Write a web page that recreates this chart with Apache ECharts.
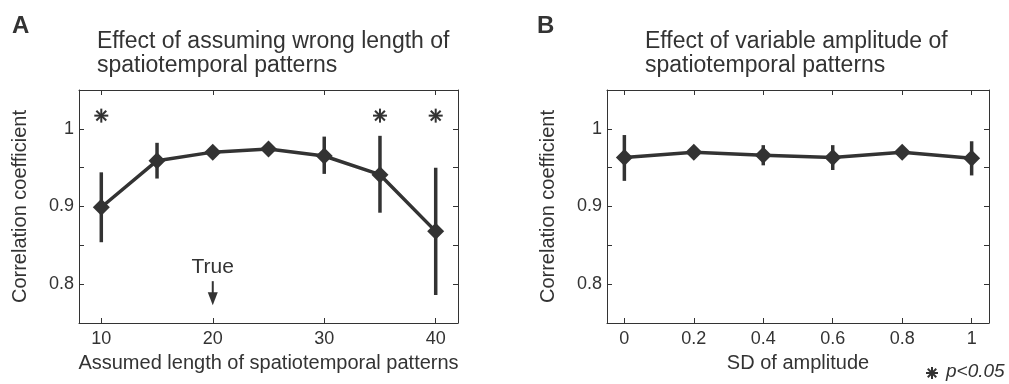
<!DOCTYPE html>
<html>
<head>
<meta charset="utf-8">
<script src="https://cdn.jsdelivr.net/npm/echarts@6/dist/echarts.min.js"></script>
<style>
  html, body { margin: 0; padding: 0; background: #fff; }
  #chart { width: 1009px; height: 384px; }
</style>
</head>
<body>
<div id="chart"></div>
<script>
// panel A: assumed pattern length
var lenX = [10, 15, 20, 25, 30, 35, 40];
var lenMean = [0.899, 0.959, 0.970, 0.974, 0.965, 0.941, 0.868];
var lenLow = [0.854, 0.936, 0.965, 0.969, 0.942, 0.892, 0.786];
var lenHigh = [0.944, 0.982, 0.975, 0.979, 0.990, 0.991, 0.950];
var sigX = [10, 35, 40];
var sigY = 1.017;
var lenTicks = [10, 20, 30, 40];

// panel B: SD of amplitude
var sdX = [0, 0.2, 0.4, 0.6, 0.8, 1];
var sdMean = [0.963, 0.970, 0.966, 0.963, 0.970, 0.962];
var sdLow = [0.933, 0.965, 0.953, 0.947, 0.965, 0.940];
var sdHigh = [0.992, 0.975, 0.979, 0.979, 0.975, 0.984];
var sdTicks = [0, 0.2, 0.4, 0.6, 0.8, 1];

var yTicks = [0.8, 0.85, 0.9, 0.95, 1];
var yLabels = [0.8, 0.9, 1];
var trueX = 20;

var ink = '#333';
var font = 'Liberation Sans, Arial, sans-serif';

function zip(a, b, c) {
  return a.map(function (v, i) { return c ? [v, b[i], c[i]] : [v, b[i]]; });
}

function errRender(params, api) {
  var p1 = api.coord([api.value(0), api.value(1)]);
  var p2 = api.coord([api.value(0), api.value(2)]);
  return {
    type: 'line',
    shape: { x1: p1[0], y1: p1[1], x2: p2[0], y2: p2[1] },
    style: { stroke: ink, lineWidth: 3.5 }
  };
}

function starLines(cx, cy, r, w) {
  var out = [];
  for (var k = 0; k < 4; k++) {
    var a = k * Math.PI / 4;
    var dx = Math.cos(a) * r, dy = Math.sin(a) * r;
    out.push({
      type: 'line',
      shape: { x1: cx - dx, y1: cy - dy, x2: cx + dx, y2: cy + dy },
      style: { stroke: ink, lineWidth: w }
    });
  }
  return out;
}

function starRender(params, api) {
  var p = api.coord([api.value(0), api.value(1)]);
  return { type: 'group', children: starLines(p[0], p[1], 7, 2) };
}

// "True" label with a down arrow above the x axis
function trueRender(params, api) {
  var p = api.coord([api.value(0), 0.8]);
  return {
    type: 'group',
    children: [
      { type: 'text', style: { text: 'True', x: p[0], y: p[1] - 17, align: 'center', verticalAlign: 'middle',
          fill: ink, font: '21px ' + font } },
      { type: 'line', shape: { x1: p[0], y1: p[1] - 3, x2: p[0], y2: p[1] + 12 }, style: { stroke: ink, lineWidth: 2 } },
      { type: 'polygon', shape: { points: [[p[0] - 5, p[1] + 8], [p[0] + 5, p[1] + 8], [p[0], p[1] + 21]] }, style: { fill: ink } }
    ]
  };
}

function yFmt(v) {
  return Math.abs(v - 1) < 1e-9 ? '1' : v.toFixed(1);
}

function xAxisPair(gi, min, max, ticks, name, fmt) {
  var base = {
    gridIndex: gi, type: 'value', min: min, max: max,
    splitLine: { show: false },
    axisLine: { show: true, onZero: false, lineStyle: { color: ink, width: 1 } },
    axisTick: { show: true, inside: true, length: 5, customValues: ticks, lineStyle: { color: ink } }
  };
  var bottom = Object.assign({}, base, {
    position: 'bottom',
    name: name, nameLocation: 'middle', nameGap: 30,
    nameTextStyle: { color: ink, fontSize: 20, fontFamily: font },
    axisLabel: { show: true, margin: 7, customValues: ticks, formatter: fmt, color: ink, fontSize: 18, fontFamily: font }
  });
  var top = Object.assign({}, base, { position: 'top', axisLabel: { show: false } });
  return [bottom, top];
}

function yAxisPair(gi) {
  var base = {
    gridIndex: gi, type: 'value', min: 0.75, max: 1.05,
    splitLine: { show: false },
    axisLine: { show: true, onZero: false, lineStyle: { color: ink, width: 1 } },
    axisTick: { show: true, inside: true, length: 5, customValues: yTicks, lineStyle: { color: ink } }
  };
  var left = Object.assign({}, base, {
    position: 'left',
    name: 'Correlation coefficient', nameLocation: 'middle', nameGap: 49,
    nameTextStyle: { color: ink, fontSize: 20, fontFamily: font },
    axisLabel: { show: true, margin: 5, customValues: yLabels, formatter: yFmt, color: ink, fontSize: 18, fontFamily: font }
  });
  var right = Object.assign({}, base, { position: 'right', axisLabel: { show: false } });
  return [left, right];
}

var chart = echarts.init(document.getElementById('chart'), null, { renderer: 'canvas' });

var titleStyle = { color: ink, fontSize: 23, fontWeight: 'normal', fontFamily: font, lineHeight: 24 };
var letterStyle = { color: ink, fontSize: 24, fontWeight: 'bold', fontFamily: font };

chart.setOption({
  animation: false,
  backgroundColor: '#fff',
  title: [
    { text: 'A', left: 7, top: 9, textStyle: letterStyle },
    { text: 'B', left: 532, top: 9, textStyle: letterStyle },
    { text: 'Effect of assuming wrong length of\nspatiotemporal patterns', left: 92, top: 25, textStyle: titleStyle },
    { text: 'Effect of variable amplitude of\nspatiotemporal patterns', left: 640, top: 25, textStyle: titleStyle }
  ],
  grid: [
    { left: 79, top: 90, width: 379, height: 233 },
    { left: 607, top: 90, width: 382, height: 233 }
  ],
  xAxis: xAxisPair(0, 8, 42, lenTicks, 'Assumed length of spatiotemporal patterns', function (v) { return String(v); })
    .concat(xAxisPair(1, -0.05, 1.05, sdTicks, 'SD of amplitude', function (v) { return String(Math.round(v * 10) / 10); })),
  yAxis: yAxisPair(0).concat(yAxisPair(1)),
  series: [
    {
      type: 'custom', xAxisIndex: 0, yAxisIndex: 0, renderItem: errRender,
      encode: { x: 0, y: [1, 2] }, data: zip(lenX, lenLow, lenHigh), z: 2
    },
    {
      type: 'line', xAxisIndex: 0, yAxisIndex: 0, data: zip(lenX, lenMean),
      symbol: 'diamond', symbolSize: 17, showSymbol: true,
      lineStyle: { color: ink, width: 3.5 }, itemStyle: { color: ink }, z: 3
    },
    {
      type: 'custom', xAxisIndex: 0, yAxisIndex: 0, renderItem: starRender,
      data: sigX.map(function (x) { return [x, sigY]; }), z: 4
    },
    {
      type: 'custom', xAxisIndex: 0, yAxisIndex: 0, renderItem: trueRender,
      data: [[trueX, 0.8]], z: 4
    },
    {
      type: 'custom', xAxisIndex: 2, yAxisIndex: 2, renderItem: errRender,
      encode: { x: 0, y: [1, 2] }, data: zip(sdX, sdLow, sdHigh), z: 2
    },
    {
      type: 'line', xAxisIndex: 2, yAxisIndex: 2, data: zip(sdX, sdMean),
      symbol: 'diamond', symbolSize: 17, showSymbol: true,
      lineStyle: { color: ink, width: 3.5 }, itemStyle: { color: ink }, z: 3
    }
  ],
  graphic: [
    { type: 'group', children: starLines(932, 373, 6, 2) },
    { type: 'text', left: 946, top: 362, style: { text: 'p<0.05', fill: ink, font: 'italic 19px ' + font } }
  ]
});
</script>
</body>
</html>
